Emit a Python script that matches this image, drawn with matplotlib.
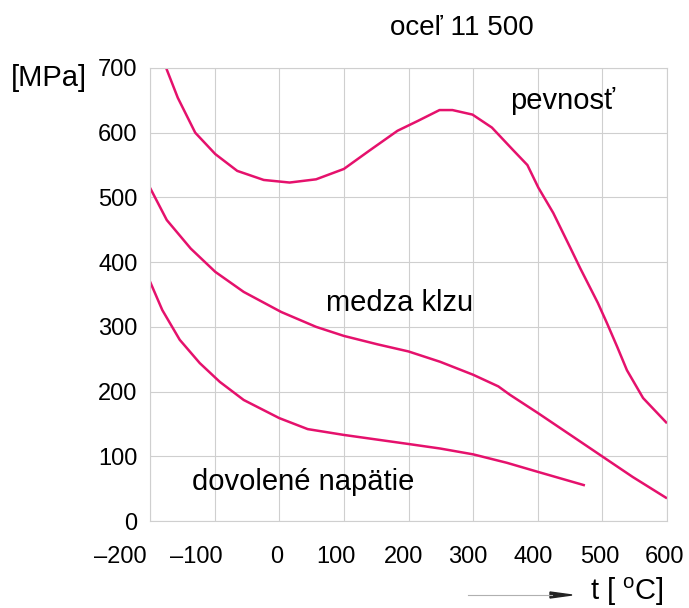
import matplotlib
matplotlib.use("Agg")
import matplotlib.pyplot as plt
from matplotlib.lines import Line2D
from matplotlib.patches import Polygon
from matplotlib.transforms import ScaledTranslation

plt.rcParams['font.family'] = ['Liberation Sans', 'DejaVu Sans']
plt.rcParams['mathtext.fontset'] = 'custom'
plt.rcParams['mathtext.rm'] = 'Liberation Sans'

# data (t in degC, stress in MPa)
t_pevnost = [-175, -157, -130, -99, -65, -24, 16, 57, 100, 139, 183, 214, 248, 268,
             299, 329, 362, 384, 401, 424, 450, 466, 493, 507, 523, 538, 563, 600]
s_pevnost = [700, 654, 600, 567, 541, 527, 523, 528, 544, 572, 603, 618, 635, 635,
             628, 608, 573, 550, 515, 476, 423, 390, 337, 306, 269, 233, 190, 151]

t_klzu = [-200, -174, -137, -99, -55, 3, 57, 100, 152, 200, 249, 300, 339, 357,
          400, 455, 501, 547, 600]
s_klzu = [515, 465, 421, 385, 354, 323, 300, 286, 273, 262, 246, 226, 208, 195,
          167, 130, 99, 68, 35]

t_dovol = [-200, -181, -154, -123, -92, -55, 0, 44, 100, 200, 249, 300, 352, 400, 473]
s_dovol = [370, 326, 280, 244, 215, 187, 159, 142, 133, 119, 112, 103, 90, 76, 55]

xticks = [-200, -100, 0, 100, 200, 300, 400, 500, 600]
xticklabels = ['–200', '–100', '0', '100', '200', '300', '400', '500', '600']
yticks = [0, 100, 200, 300, 400, 500, 600, 700]

W, H = 689, 608
fig = plt.figure(figsize=(W / 100, H / 100), dpi=100)
ax = fig.add_axes([150 / W, 1 - 521 / H, (667 - 150) / W, (521 - 68) / H])

col = '#e5116c'
for t, s in [(t_pevnost, s_pevnost), (t_klzu, s_klzu), (t_dovol, s_dovol)]:
    ax.plot(t, s, color=col, lw=1.8, solid_joinstyle='round', solid_capstyle='butt')

ax.set_xlim(-200, 600)
ax.set_ylim(0, 700)
ax.set_xticks(xticks)
ax.set_xticklabels(xticklabels)
ax.set_yticks(yticks)
ax.grid(True, color='#cfcfcf', lw=0.8)
for sp in ax.spines.values():
    sp.set_color('#cfcfcf')
    sp.set_linewidth(0.8)
ax.tick_params(length=0, labelsize=17)
ax.tick_params(axis='x', pad=18)
ax.tick_params(axis='y', pad=9)

# the x labels in the original sit a bit left of their grid lines
xoffs = [-30, -18, -3, -8, -5, -5, -5, -3, -2]
for lab, dx in zip(ax.get_xticklabels(), xoffs):
    lab.set_transform(lab.get_transform() + ScaledTranslation(dx / 100, 0, fig.dpi_scale_trans))

def ftext(x, y, s, **kw):
    fig.text(x / W, 1 - y / H, s, va='center', **kw)

ftext(462, 28, 'oceľ 11 500', ha='center', fontsize=20)
ftext(49, 78, '[MPa]', ha='center', fontsize=21)
ftext(563, 101, 'pevnosť', ha='center', fontsize=21)
ftext(400, 303, 'medza klzu', ha='center', fontsize=21)
ftext(303, 482, 'dovolené napätie', ha='center', fontsize=21)
ftext(627, 592, 't [ $^{\\rm o}$C]', ha='center', fontsize=21)

# arrow in front of the axis label
fig.add_artist(Line2D([468 / W, 552 / W], [1 - 595 / H, 1 - 595 / H],
                      transform=fig.transFigure, color='#b0b0b0', lw=0.8))
fig.add_artist(Polygon([[550 / W, 1 - 592 / H], [572 / W, 1 - 595 / H], [550 / W, 1 - 598 / H]],
                       closed=True, transform=fig.transFigure, color='#222222'))

fig.savefig('out.png', dpi=100)
